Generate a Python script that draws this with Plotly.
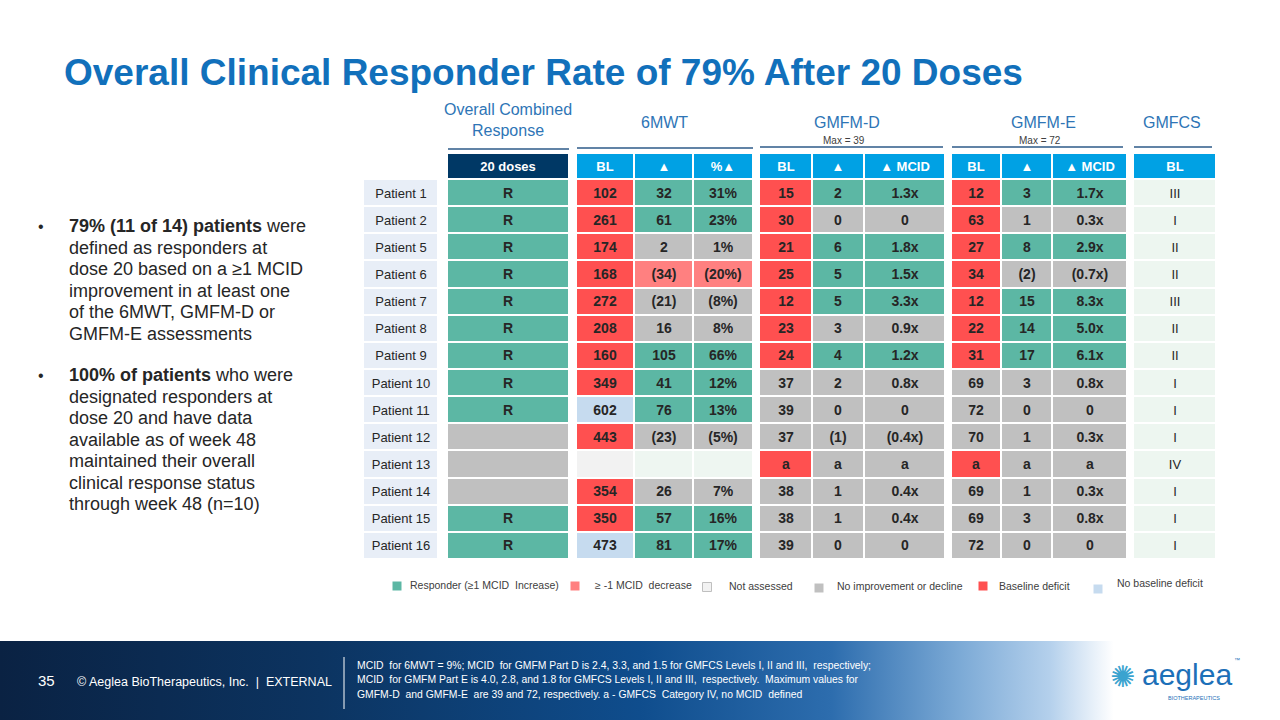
import plotly.graph_objects as go

# ---------------- DATA ----------------
patients = ["Patient 1", "Patient 2", "Patient 5", "Patient 6", "Patient 7", "Patient 8", "Patient 9",
            "Patient 10", "Patient 11", "Patient 12", "Patient 13", "Patient 14", "Patient 15", "Patient 16"]

combined = ["R", "R", "R", "R", "R", "R", "R", "R", "R", "", "", "", "R", "R"]
combined_status = ["resp"] * 9 + ["none"] * 3 + ["resp"] * 2

mwt_bl = ["102", "261", "174", "168", "272", "208", "160", "349", "602", "443", "", "354", "350", "473"]
mwt_bl_status = ["bd"] * 8 + ["nbd", "bd", "na", "bd", "bd", "nbd"]
mwt_chg = ["32", "61", "2", "(34)", "(21)", "16", "105", "41", "76", "(23)", "", "26", "57", "81"]
mwt_pct = ["31%", "23%", "1%", "(20%)", "(8%)", "8%", "66%", "12%", "13%", "(5%)", "", "7%", "16%", "17%"]
mwt_chg_status = ["resp", "resp", "none", "dec", "none", "none", "resp", "resp", "resp", "none", "na2",
                  "none", "resp", "resp"]

gd_bl = ["15", "30", "21", "25", "12", "23", "24", "37", "39", "37", "a", "38", "38", "39"]
gd_bl_status = ["bd"] * 7 + ["none"] * 3 + ["bd"] + ["none"] * 3
gd_chg = ["2", "0", "6", "5", "5", "3", "4", "2", "0", "(1)", "a", "1", "1", "0"]
gd_mcid = ["1.3x", "0", "1.8x", "1.5x", "3.3x", "0.9x", "1.2x", "0.8x", "0", "(0.4x)", "a", "0.4x", "0.4x", "0"]
gd_chg_status = ["resp", "none", "resp", "resp", "resp", "none", "resp"] + ["none"] * 7

ge_bl = ["12", "63", "27", "34", "12", "22", "31", "69", "72", "70", "a", "69", "69", "72"]
ge_bl_status = ["bd"] * 7 + ["none"] * 3 + ["bd"] + ["none"] * 3
ge_chg = ["3", "1", "8", "(2)", "15", "14", "17", "3", "0", "1", "a", "1", "3", "0"]
ge_mcid = ["1.7x", "0.3x", "2.9x", "(0.7x)", "8.3x", "5.0x", "6.1x", "0.8x", "0", "0.3x", "a", "0.3x", "0.8x", "0"]
ge_chg_status = ["resp", "none", "resp", "none", "resp", "resp", "resp"] + ["none"] * 7

gmfcs = ["III", "I", "II", "II", "III", "II", "II", "I", "I", "I", "IV", "I", "I", "I"]

header_labels = ["20 doses", "BL", "▲", "%▲", "BL", "▲", "▲ MCID", "BL", "▲", "▲ MCID", "BL"]
group_titles = ["Overall Combined<br>Response", "6MWT", "GMFM-D", "GMFM-E", "GMFCS"]
group_subtitles = ["", "", "Max = 39", "Max = 72", ""]

legend_labels = ["Responder (≥1 MCID  Increase)", "≥ -1 MCID  decrease", "Not assessed",
                 "No improvement or decline", "Baseline deficit", "No baseline deficit"]
legend_codes = ["resp", "dec", "na", "none", "bd", "nbd"]

bullet1_lines = ["<b>79% (11 of 14) patients</b> were", "defined as responders at", "dose 20 based on a ≥1 MCID",
                 "improvement in at least one", "of the 6MWT, GMFM-D or", "GMFM-E assessments"]
bullet2_lines = ["<b>100% of patients</b> who were", "designated responders at", "dose 20 and have data",
                 "available as of week 48", "maintained their overall", "clinical response status",
                 "through week 48 (n=10)"]

# ---------------- STYLE / LAYOUT ----------------
FONT = "Liberation Sans, Arial, sans-serif"
DARK = "#262626"
COLORS = {
    "resp": "#5CB7A4", "dec": "#FF8080", "na": "#F2F2F2", "na2": "#EEF6F1", "none": "#C0C0C0",
    "bd": "#FF5050", "nbd": "#C6DBEF", "lbl": "#E8EEF7", "cls": "#EDF6F0", "hdr": "#00A1E4",
    "hdr2": "#003865",
}
CODES = list(COLORS.keys())
N = len(CODES)
CS = []
for i, k in enumerate(CODES):
    CS.append([i / N, COLORS[k]])
    CS.append([(i + 1) / N, COLORS[k]])

ROW_TOP, ROW_H = 179.0, 27.14
ROW_EDGES = [ROW_TOP + ROW_H * k for k in range(len(patients) + 1)]
HDR_EDGES = [153, 179]

COLS = {
    "pat": (363, 438), "comb": (447, 569),
    "m_bl": (576, 634), "m_ch": (634, 693), "m_pc": (693, 753),
    "d_bl": (759, 812), "d_ch": (812, 864), "d_mc": (864, 945),
    "e_bl": (951, 1001), "e_ch": (1001, 1052), "e_mc": (1052, 1127),
    "cls": (1133, 1216),
}

fig = go.Figure()


def add_cells(key, edges, texts, statuses, size=14, weight="bold", color=DARK):
    x0, x1 = COLS[key]
    z = [[CODES.index(s)] for s in statuses]
    fig.add_trace(go.Heatmap(
        x=[x0, x1], y=edges, z=z, text=[[t] for t in texts], texttemplate="%{text}",
        textfont=dict(family=FONT, size=size, color=color, weight=weight),
        colorscale=CS, zmin=-0.5, zmax=N - 0.5, showscale=False,
        xgap=2, ygap=2, hoverinfo="skip"))


add_cells("pat", ROW_EDGES, patients, ["lbl"] * len(patients), size=13, weight="normal")
add_cells("comb", ROW_EDGES, combined, combined_status)
add_cells("m_bl", ROW_EDGES, mwt_bl, mwt_bl_status)
add_cells("m_ch", ROW_EDGES, mwt_chg, mwt_chg_status)
add_cells("m_pc", ROW_EDGES, mwt_pct, mwt_chg_status)
add_cells("d_bl", ROW_EDGES, gd_bl, gd_bl_status)
add_cells("d_ch", ROW_EDGES, gd_chg, gd_chg_status)
add_cells("d_mc", ROW_EDGES, gd_mcid, gd_chg_status)
add_cells("e_bl", ROW_EDGES, ge_bl, ge_bl_status)
add_cells("e_ch", ROW_EDGES, ge_chg, ge_chg_status)
add_cells("e_mc", ROW_EDGES, ge_mcid, ge_chg_status)
add_cells("cls", ROW_EDGES, gmfcs, ["cls"] * len(gmfcs), size=13, weight="normal")

hdr_keys = ["comb", "m_bl", "m_ch", "m_pc", "d_bl", "d_ch", "d_mc", "e_bl", "e_ch", "e_mc", "cls"]
for k, lab in zip(hdr_keys, header_labels):
    add_cells(k, HDR_EDGES, [lab], ["hdr2" if k == "comb" else "hdr"], size=13, color="white")

# footer gradient band
fig.add_trace(go.Scatter(
    x=[0, 1280, 1280, 0, 0], y=[641, 641, 720, 720, 641], mode="lines", fill="toself",
    line=dict(width=0), hoverinfo="skip",
    fillgradient=dict(type="horizontal", colorscale=[
        [0.0, "#0A2243"], [0.25, "#0C3461"], [0.5, "#0F4D8D"], [0.65, "#2D6DAE"],
        [0.75, "#7CAAD6"], [0.82, "#B4D0EC"], [0.87, "#FFFFFF"], [1.0, "#FFFFFF"]])))

# legend squares
LEG_X = [397, 575, 707, 819, 983, 1098]
LEG_TX = [408, 593, 727, 835, 997, 1115]
LEG_Y = [586, 586, 587, 588, 586, 589]
fig.add_trace(go.Scatter(
    x=LEG_X, y=LEG_Y, mode="markers", hoverinfo="skip",
    marker=dict(symbol="square", size=9, color=[COLORS[c] for c in legend_codes],
                line=dict(color=["rgba(0,0,0,0)", "rgba(0,0,0,0)", "#BFBFBF", "rgba(0,0,0,0)",
                                 "rgba(0,0,0,0)", "rgba(0,0,0,0)"], width=1))))

ann = []
for lab, tx, ty in zip(legend_labels, LEG_TX, [585, 585, 586, 586, 586, 583]):
    ann.append(dict(x=tx, y=ty, text=lab, xanchor="left", yanchor="middle", showarrow=False,
                    font=dict(family=FONT, size=10.5, color="#404040")))

# title
ann.append(dict(x=62, y=72, text="<b>Overall Clinical Responder Rate of 79% After 20 Doses</b>",
                xanchor="left", yanchor="middle", showarrow=False,
                font=dict(family=FONT, size=37, color="#1170BB")))

# group titles
TITLE_X = [508, 664, 847, 1043, 1172]
TITLE_Y = [120, 122, 122, 122, 122]
for t, s, tx, ty in zip(group_titles, group_subtitles, TITLE_X, TITLE_Y):
    ann.append(dict(x=tx, y=ty, text=t, xanchor="center", yanchor="middle", showarrow=False,
                    font=dict(family=FONT, size=16, color="#2E75B6")))
    if s:
        ann.append(dict(x=tx - 3, y=140, text=s, xanchor="center", yanchor="middle", showarrow=False,
                        font=dict(family=FONT, size=10, color="#404040")))

shapes = []
for x0, x1, yy in [(448, 569, 149), (577, 753, 148), (760, 943, 147), (952, 1123, 147), (1134, 1212, 147)]:
    shapes.append(dict(type="line", x0=x0, x1=x1, y0=yy, y1=yy, xref="x", yref="y",
                       line=dict(color="#2C5A88", width=1.5)))

# left bullets, one annotation per line
LINE_GAP = 21.5
for lines, y0 in [(bullet1_lines, 226), (bullet2_lines, 375)]:
    ann.append(dict(x=41, y=y0, text="•", xanchor="center", yanchor="middle", showarrow=False,
                    font=dict(family=FONT, size=16, color=DARK)))
    for i, line in enumerate(lines):
        ann.append(dict(x=67, y=y0 + LINE_GAP * i, text=line, xanchor="left", yanchor="middle",
                        showarrow=False, font=dict(family=FONT, size=18, color=DARK)))

# footer texts
ann.append(dict(x=46, y=680, text="35", xanchor="center", yanchor="middle", showarrow=False,
                font=dict(family=FONT, size=15, color="white")))
ann.append(dict(x=75, y=682, text="© Aeglea BioTherapeutics, Inc.  |  EXTERNAL", xanchor="left",
                yanchor="middle", showarrow=False, font=dict(family=FONT, size=12.5, color="white")))
shapes.append(dict(type="line", x0=344, x1=344, y0=657, y1=709, xref="x", yref="y",
                   line=dict(color="white", width=1)))
foot = ["MCID  for 6MWT = 9%; MCID  for GMFM Part D is 2.4, 3.3, and 1.5 for GMFCS Levels I, II and III,  respectively;",
        "MCID  for GMFM Part E is 4.0, 2.8, and 1.8 for GMFCS Levels I, II and III,  respectively.  Maximum values for",
        "GMFM-D  and GMFM-E  are 39 and 72, respectively. a - GMFCS  Category IV, no MCID  defined"]
for i, line in enumerate(foot):
    ann.append(dict(x=355, y=665 + 14.5 * i, text=line, xanchor="left", yanchor="middle", showarrow=False,
                    font=dict(family=FONT, size=10.4, color="white")))

# logo
ann.append(dict(x=1122, y=676, text="✺", xanchor="center", yanchor="middle", showarrow=False,
                font=dict(family="DejaVu Sans", size=30, color="#3AA3CF")))
ann.append(dict(x=1140, y=674, text="aeglea", xanchor="left", yanchor="middle", showarrow=False,
                font=dict(family=FONT, size=30, color="#1D70B8")))
ann.append(dict(x=1232, y=660, text="™", xanchor="left", yanchor="middle", showarrow=False,
                font=dict(family=FONT, size=6, color="#1D70B8")))
ann.append(dict(x=1222, y=698, text="BIOTHERAPEUTICS", xanchor="right", yanchor="middle", showarrow=False,
                font=dict(family=FONT, size=5.5, color="#1D70B8")))

fig.update_layout(
    width=1280, height=720, margin=dict(l=0, r=0, t=0, b=0),
    paper_bgcolor="white", plot_bgcolor="white", showlegend=False,
    xaxis=dict(range=[0, 1280], visible=False, fixedrange=True),
    yaxis=dict(range=[720, 0], visible=False, fixedrange=True),
    annotations=ann, shapes=shapes,
)

fig.write_html("out.html", config={"displayModeBar": False},
               post_script="document.body.style.margin='0';")
